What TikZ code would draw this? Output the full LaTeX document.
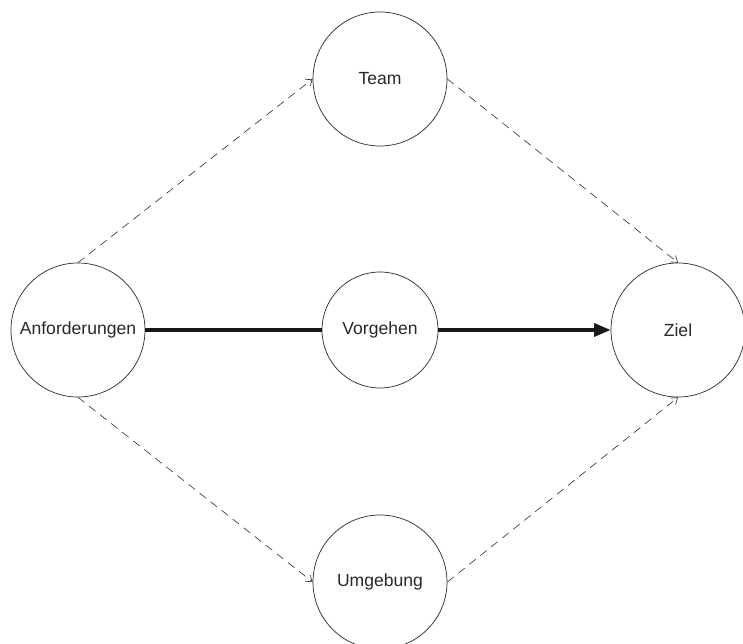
\documentclass[tikz,border=0pt]{standalone}
\usepackage{fontspec}
\setmainfont{Liberation Sans}
\usepackage{xcolor}
\definecolor{linegray}{RGB}{40, 40, 40}
\usetikzlibrary{arrows.meta,positioning}

\begin{document}
\begin{tikzpicture}[x=0.03cm, y=-0.03cm,
    factor/.style={draw=linegray, circle, line width=0.6pt, inner sep=0pt,
        minimum size=4.02cm, font=\fontsize{15}{18}\selectfont, text=linegray},
    influence/.style={draw=linegray, dashed, dash pattern=on 7pt off 5pt, line width=0.5pt,
        -{Straight Barb[length=5pt, width=7pt]}},
    mainflow/.style={draw=black!90, line width=2.8pt}]
    \useasboundingbox (0, 0) rectangle (743, 644);

    % Factors
    \node[factor] (anf) at (78, 330) {Anforderungen};
    \node[factor, minimum size=3.48cm] (vorg) at (380, 330) {Vorgehen};
    \node[factor] (team) at (380, 79) {Team};
    \node[factor] (umg) at (380, 582) {Umgebung};
    \node[factor] (ziel) at (678, 330) {Ziel};

    % Main path
    \draw[mainflow] (anf.east) -- (vorg.west);
    \draw[mainflow, -{Triangle[length=14pt, width=11pt]}] (vorg.east) -- (ziel.west);

    % Influences
    \draw[influence] (anf.north) -- (team.west);
    \draw[influence] (team.east) -- (ziel.north);
    \draw[influence] (anf.south) -- (umg.west);
    \draw[influence] (umg.east) -- (ziel.south);
\end{tikzpicture}
\end{document}
